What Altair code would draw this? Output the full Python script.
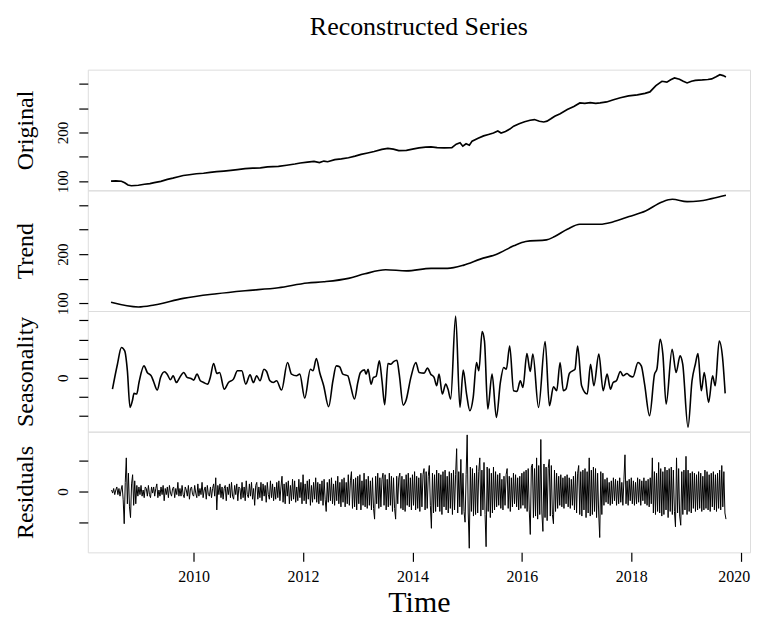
import altair as alt
import pandas as pd

# ---------------- data ----------------
orig_year = [2008.49, 2008.58, 2008.68, 2008.74, 2008.80, 2008.86, 2008.93, 2008.99, 2009.10, 2009.20,
             2009.28, 2009.40, 2009.52, 2009.62, 2009.72, 2009.81, 2009.92, 2010.05, 2010.18, 2010.30,
             2010.42, 2010.55, 2010.68, 2010.80, 2010.94, 2011.08, 2011.22, 2011.35, 2011.55, 2011.70,
             2011.85, 2011.95, 2012.08, 2012.20, 2012.30, 2012.38, 2012.45, 2012.58, 2012.70, 2012.83,
             2012.95, 2013.06, 2013.18, 2013.30, 2013.44, 2013.55, 2013.65, 2013.75, 2013.89, 2014.00,
             2014.12, 2014.24, 2014.34, 2014.45, 2014.58, 2014.72, 2014.80, 2014.87, 2014.92, 2014.98,
             2015.04, 2015.09, 2015.20, 2015.30, 2015.39, 2015.48, 2015.56, 2015.62, 2015.70, 2015.78,
             2015.85, 2015.95, 2016.05, 2016.15, 2016.23, 2016.32, 2016.40, 2016.46, 2016.53, 2016.60,
             2016.70, 2016.83, 2016.95, 2017.06, 2017.15, 2017.25, 2017.35, 2017.43, 2017.55, 2017.66,
             2017.80, 2017.95, 2018.11, 2018.25, 2018.34, 2018.45, 2018.56, 2018.65, 2018.72, 2018.79,
             2018.88, 2018.95, 2019.02, 2019.10, 2019.17, 2019.30, 2019.40, 2019.47, 2019.55, 2019.62,
             2019.68, 2019.73]
orig_val = [100.5, 101.0, 100.2, 97.0, 92.5, 91.0, 91.5, 92.0, 94.0, 95.5,
            97.3, 100.0, 104.0, 106.5, 109.5, 112.0, 113.5, 115.5, 116.5, 118.5,
            119.7, 121.0, 122.5, 124.0, 125.9, 127.0, 127.5, 129.5, 130.5, 133.0,
            135.5, 137.5, 139.5, 141.0, 138.5, 141.5, 140.1, 144.5, 146.0, 148.3,
            151.5, 155.1, 158.0, 161.0, 165.3, 167.5, 166.0, 163.0, 163.3, 166.0,
            168.5, 170.0, 170.7, 169.0, 168.5, 168.7, 176.0, 178.9, 172.0, 177.0,
            174.0, 182.3, 188.0, 193.0, 195.9, 199.0, 203.0, 199.0, 202.0, 207.0,
            212.9, 218.0, 222.0, 225.0, 226.5, 223.0, 221.5, 223.1, 228.0, 233.3,
            238.5, 246.9, 253.0, 260.5, 259.5, 261.0, 259.5, 260.5, 262.5, 266.5,
            271.0, 275.0, 277.0, 280.0, 283.0, 296.0, 304.8, 303.0, 308.0, 311.6,
            309.0, 305.0, 301.4, 305.0, 306.8, 307.5, 308.5, 309.6, 314.0, 318.4,
            316.5, 313.7]

trend_year = [2008.49, 2008.99, 2009.28, 2009.81, 2010.42, 2010.94, 2011.55, 2012.08, 2012.38, 2012.83,
              2013.13, 2013.51, 2013.89, 2014.34, 2014.64, 2014.94, 2015.24, 2015.54, 2015.85, 2016.07,
              2016.45, 2016.60, 2016.83, 2017.06, 2017.43, 2017.66, 2017.96, 2018.26, 2018.56, 2018.75,
              2019.02, 2019.24, 2019.47, 2019.73]
trend_val = [102.0, 92.5, 96.6, 110.1, 119.5, 125.6, 131.6, 141.2, 143.8, 150.7,
             160.0, 168.2, 166.1, 171.0, 171.0, 177.7, 189.9, 200.0, 216.9, 225.8,
             229.1, 235.9, 250.7, 260.9, 260.9, 265.5, 276.5, 287.8, 306.1, 311.6,
             306.9, 308.1, 312.9, 319.7]

seas_year = [2008.516, 2008.607, 2008.680, 2008.740, 2008.789, 2008.837, 2008.880, 2008.910, 2008.959, 2009.001,
             2009.092, 2009.152, 2009.225, 2009.274, 2009.334, 2009.395, 2009.468, 2009.516, 2009.577, 2009.625,
             2009.686, 2009.746, 2009.819, 2009.880, 2009.952, 2010.001, 2010.062, 2010.122, 2010.183, 2010.255,
             2010.304, 2010.365, 2010.425, 2010.474, 2010.559, 2010.637, 2010.728, 2010.801, 2010.880, 2010.952,
             2011.031, 2011.092, 2011.152, 2011.213, 2011.286, 2011.334, 2011.395, 2011.455, 2011.516, 2011.607,
             2011.716, 2011.789, 2011.880, 2011.940, 2012.031, 2012.134, 2012.183, 2012.243, 2012.304, 2012.377,
             2012.468, 2012.546, 2012.607, 2012.668, 2012.728, 2012.819, 2012.862, 2012.940, 2013.001, 2013.049,
             2013.122, 2013.152, 2013.189, 2013.243, 2013.286, 2013.334, 2013.395, 2013.443, 2013.492, 2013.552,
             2013.607, 2013.655, 2013.716, 2013.758, 2013.831, 2013.880, 2013.971, 2014.062, 2014.122, 2014.213,
             2014.274, 2014.334, 2014.395, 2014.443, 2014.486, 2014.546, 2014.607, 2014.649, 2014.698, 2014.789,
             2014.868, 2014.928, 2014.989, 2015.049, 2015.110, 2015.171, 2015.213, 2015.274, 2015.316, 2015.377,
             2015.455, 2015.534, 2015.607, 2015.668, 2015.716, 2015.777, 2015.849, 2015.910, 2015.971, 2016.019,
             2016.092, 2016.152, 2016.201, 2016.304, 2016.425, 2016.504, 2016.577, 2016.637, 2016.698, 2016.758,
             2016.807, 2016.868, 2016.928, 2016.971, 2017.019, 2017.092, 2017.195, 2017.255, 2017.316, 2017.407,
             2017.486, 2017.558, 2017.619, 2017.668, 2017.728, 2017.801, 2017.849, 2017.922, 2017.971, 2018.031,
             2018.122, 2018.183, 2018.243, 2018.334, 2018.425, 2018.468, 2018.528, 2018.577, 2018.637, 2018.746,
             2018.819, 2018.892, 2018.940, 2019.037, 2019.110, 2019.171, 2019.219, 2019.280, 2019.334, 2019.413,
             2019.486, 2019.534, 2019.607, 2019.668, 2019.716]
seas_val = [-11.8, 14.2, 31.6, 28.1, 7.3, -30.9, -24.0, -16.3, -17.0, -4.9,
            12.5, 5.6, 2.1, -4.9, -12.8, 0.4, 6.3, 3.8, -2.1, 2.1,
            -4.9, 0.4, 5.6, 0.4, -0.7, -2.4, 3.8, -3.1, -4.9, -6.6,
            0.4, 14.9, 4.5, 5.6, -11.8, -4.9, -1.4, 7.3, 7.3, -6.6,
            3.1, -4.9, 2.1, -3.1, 9.0, 6.6, -3.1, -4.9, -3.1, -12.8,
            16.0, 3.8, 2.1, 3.8, -21.2, 9.0, 7.3, 20.1, 5.6, -8.3,
            -30.2, -3.1, 12.5, 11.5, 3.8, 2.1, -6.6, -22.2, -4.9, 5.6,
            8.3, 3.8, 9.0, -6.6, 0.4, 1.4, 17.7, -3.1, -28.1, 14.9,
            14.2, 17.0, 18.4, 3.8, -28.5, -24.0, 0.4, 16.0, 5.6, 4.9,
            10.1, 3.8, 0.4, -8.3, 3.8, -17.0, -6.6, -11.8, -22.2, 64.6,
            -30.9, 8.0, -17.0, -34.4, -20.5, 16.0, 7.3, 48.3, 38.5, -32.6,
            3.8, -41.3, -4.9, 10.8, 9.0, 33.3, -13.5, -14.2, -3.1, -10.1,
            25.4, 6.6, 24.7, -30.9, 37.9, -29.2, -9.4, -13.5, 16.0, -13.5,
            -11.8, 4.5, 7.3, 9.0, 33.3, -8.3, -17.0, 14.2, -8.3, 24.7,
            -13.5, 3.8, -11.8, -4.9, -3.1, 6.6, 2.1, 4.5, 2.1, 1.0,
            16.0, 12.5, -6.6, -39.6, 3.8, 9.0, 40.3, 24.7, -27.4, 29.9,
            5.6, 22.9, 14.2, -51.7, -3.1, 14.2, 25.4, -13.5, 5.6, -25.7,
            2.1, -8.3, 38.5, 21.2, -16.3]

# residuals: one value per week starting mid-2008
resid_start = 2008.5
resid_per_year = 52
resid_val = [1, -1, 2, -2, 1, 3, -2, 2, -3, 1, 4, -5, -21,
             6, 22, -8, 12, -10, -17, 5, 11, -9, 7, -8, 4, -3,
             3, -2, 4, -3, 1, -4, 3, 2, -3, 4, -2, -4, 3,
             -1, 3, -3, 2, 5, -4, 1, -3, 3, -2, 4, -6, 2,
             -2, 3, -4, 4, -1, -3, 2, 3, -4, 2, -2, 6, -3,
             2, -3, 4, -2, -4, 3, 1, -3, 4, -5, 2, 3, -2,
             -3, 4, -1, -4, 5, -3, 2, -2, 6, -4, 1, 3, -5,
             4, -2, -3, 3, -4, 2, 5, -3, 9, -12, 4, -2, 5,
             -4, 3, -5, 2, 4, -6, 3, -2, 5, -4, 6, -3, -5,
             4, -2, 5, -6, 3, 2, -5, 6, -4, 3, -6, 7, -2,
             -4, 5, -3, 6, -5, 2, -9, 4, 6, -5, 3, -4, 6,
             -6, 5, -3, 4, -7, 6, -2, -5, 7, -4, 5, -6, 3,
             -5, 6, -4, 7, -6, 3, 10, -7, 5, -8, 6, -3, 7,
             -8, 4, -6, 8, -5, 7, -7, 3, -6, 8, -4, 6, -8,
             11, -6, 5, -8, 7, -5, 8, -9, 4, -7, 6, -5, 9,
             -7, 6, -8, 5, -6, 7, -9, 8, -5, -13, 6, -7, 8,
             -6, 9, -8, 5, -9, 7, -6, 10, -8, 6, -10, 8, -7,
             9, -10, 6, -8, 11, -9, 7, 13, -11, 8, -10, 9, -12,
             10, -8, 11, -12, 7, -9, 12, -10, 8, -11, 10, -9, 7,
             -12, 9, -11, -18, 10, -8, 12, -11, 9, -10, 8, 12, -9,
             11, -12, 8, -10, 12, -9, 10, -13, 9, -11, -18, 10, -8,
             9, 12, -11, 10, -12, 8, -13, 11, -9, 12, -10, 9, -12,
             11, -9, 13, -12, 10, -11, 9, -13, 12, -10, 11, 15, -12,
             13, -11, 10, 17, -9, -24, 12, -14, 11, -13, 14, -10, 12,
             -13, 11, -15, 13, -10, 14, -12, 10, -14, 13, -11, 12, -15,
             14, -12, 11, 28, -14, 13, -10, 21, -15, 12, -13, -20, 11,
             37, -14, -37, 16, -13, 15, -16, 12, -15, 17, -14, 13, 22,
             -16, 14, -12, 19, -15, -36, 16, -13, 15, -17, 12, -14, 16,
             -12, 13, -10, 11, -9, 12, -11, 8, -12, 10, -9, 11, 15,
             -11, 10, -13, 9, -10, 12, -8, 11, -10, 9, -12, 10, -11,
             12, -9, 13, -11, 14, -13, 15, -12, -28, 16, 18, -17, 15,
             -16, 22, -18, 17, -15, 34, -14, -26, 18, -17, 16, -19, 15,
             21, -16, 17, -15, -21, 14, -13, 12, -11, 10, -9, 11, -10,
             9, -11, 10, -8, 11, -10, 9, -11, 8, -9, 10, -12, 13,
             -14, 12, 17, -15, 13, -16, 14, -12, 15, -17, 13, -14, 22,
             -16, 14, -15, 16, -13, 15, -17, 12, -14, -30, 13, -15, 12,
             -9, 8, -7, 9, -8, 6, -9, 7, -8, 9, -6, 8, -9,
             7, -8, 9, -7, 6, -9, 8, 24, -8, 7, -9, 8, -6,
             9, -8, 7, -9, 6, -8, 9, -7, 8, -9, 7, -6, 9,
             -8, 7, -9, 8, -10, 9, -8, 22, -14, 13, -15, 12, -13,
             19, -14, 15, -16, 13, -15, 16, -12, 14, -17, 15, -13, 16,
             -15, 14, -13, -23, 22, -14, 15, -16, -22, 13, -15, 14, -12,
             23, -15, 14, -13, 12, -14, 13, -11, 12, -13, 11, -12, 13,
             -11, 12, -13, 10, -12, 14, -11, 13, -12, 11, -13, 12, -10,
             13, -12, 11, -13, 12, -11, 14, -12, 17, -10, 13, -14, -18]
resid_year = [resid_start + i / resid_per_year for i in range(len(resid_val))]

x_ticks = [2010, 2012, 2014, 2016, 2018, 2020]

# ---------------- chart ----------------
FONT = "Liberation Serif"
XDOM = [2008.065, 2020.17]
W, H = 664, 121


def frame(years, vals):
    return pd.DataFrame([{"year": a, "value": b} for a, b in zip(years, vals)])


def yaxis(title, ticks, labeled):
    cond = " || ".join(f"datum.value == {v}" for v in labeled)
    return alt.Axis(values=ticks, labelExpr=f"({cond}) ? datum.label : ''", title=title,
                    tickSize=9, tickWidth=1.2, tickColor="black", domain=False, grid=False,
                    labelAngle=270, labelAlign="center", labelBaseline="alphabetic",
                    labelPadding=11, labelFont=FONT, labelFontSize=15, labelColor="black",
                    labelOverlap=False, labelFlush=False,
                    titleFont=FONT, titleFontSize=24, titleFontWeight="normal", titleColor="black",
                    titleAngle=270, titleAlign="center", titleBaseline="alphabetic",
                    titleX=-55.5, titleY=H / 2)


xaxis_bottom = alt.Axis(values=x_ticks, format="d", tickSize=9, tickWidth=1.2, tickColor="black",
                        domain=False, grid=False, labelFont=FONT, labelFontSize=16, labelColor="black",
                        labelBaseline="alphabetic", labelPadding=20, labelFlush=False, labelOverlap=False,
                        labelOffset={"condition": {"test": "datum.value == 2020", "value": -7}, "value": 0},
                        title="Time", titleFont=FONT, titleFontSize=30, titleFontWeight="normal",
                        titleColor="black", titleX=W / 2, titleY=65.5, titleBaseline="bottom",
                        titleAlign="center")


def panel(df, ytitle, ydom, ticks, labeled, interp="linear", sw=1.5, bottom=False):
    x = alt.X("year:Q", scale=alt.Scale(domain=XDOM, nice=False, zero=False),
              axis=xaxis_bottom if bottom else None)
    y = alt.Y("value:Q", scale=alt.Scale(domain=ydom, nice=False, zero=False),
              axis=yaxis(ytitle, ticks, labeled))
    return alt.Chart(df).mark_line(color="black", strokeWidth=sw, interpolate=interp,
                                   clip=True).encode(x=x, y=y).properties(width=W, height=H)


p1 = panel(frame(orig_year, orig_val), "Original", [81.6, 328.6], [100, 150, 200, 250, 300], [100, 200],
           sw=1.7).properties(
    title=alt.TitleParams("Reconstructed Series", font=FONT, fontSize=26, fontWeight="normal",
                          color="black", anchor="middle", frame="group", offset=30))
p2 = panel(frame(trend_year, trend_val), "Trend", [84.4, 329.8], [100, 150, 200, 250, 300], [100, 200],
           interp="monotone", sw=1.6)
p3 = panel(frame(seas_year, seas_val), "Seasonality", [-56.3, 69.8], [-40, -20, 0, 20, 40, 60], [0],
           interp="monotone", sw=1.6)
p4 = panel(frame(resid_year, resid_val), "Residuals", [-39.7, 39.1], [-20, 0, 20], [0],
           sw=1.0, bottom=True)

chart = alt.vconcat(p1, p2, p3, p4, spacing=0, bounds="flush").properties(
    padding={"left": 5, "top": 4, "right": 0, "bottom": 0}
).configure_view(stroke="black", strokeWidth=1.3).configure(background="white")

chart.save("out.html", embed_options={"renderer": "svg", "actions": False})
